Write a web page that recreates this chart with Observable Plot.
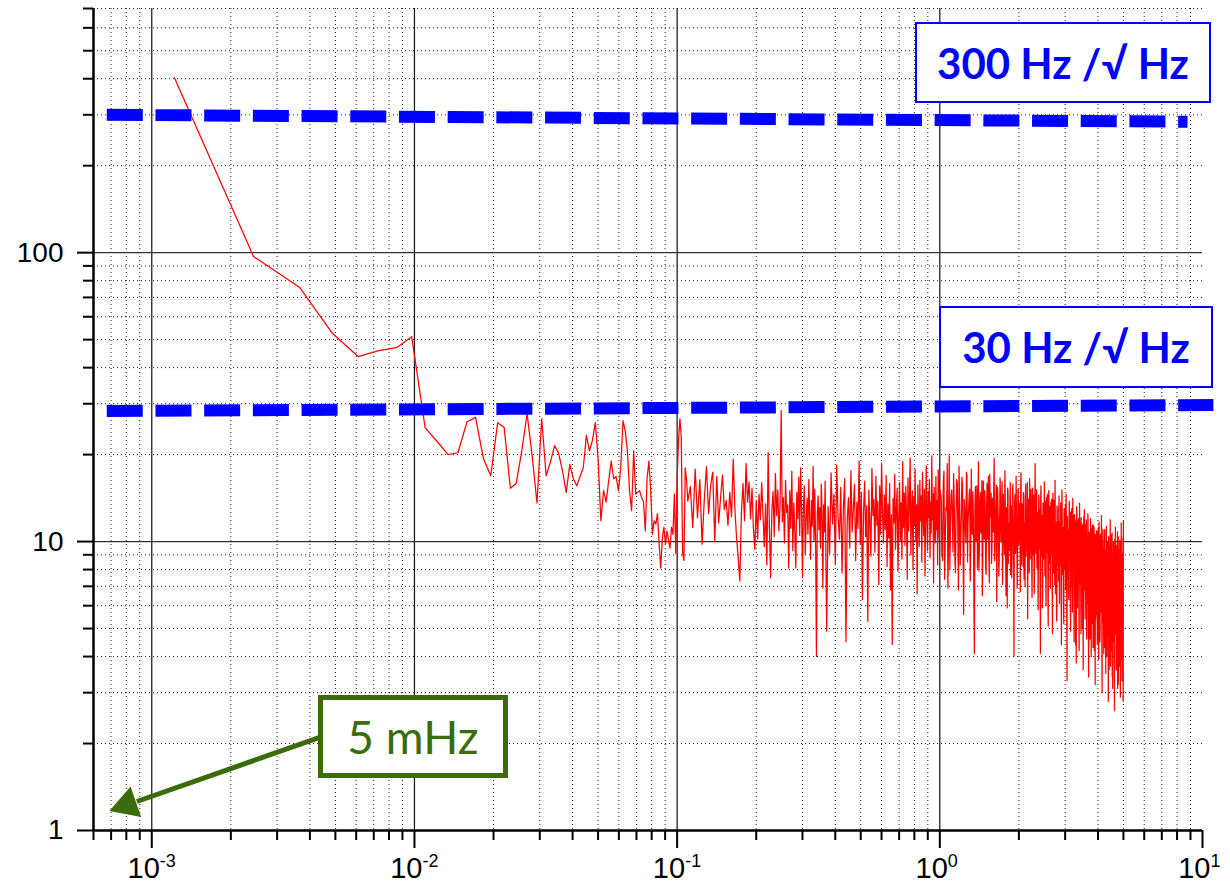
<!DOCTYPE html>
<html><head><meta charset="utf-8">
<script src="https://cdn.jsdelivr.net/npm/d3@7"></script>
<script src="https://cdn.jsdelivr.net/npm/@observablehq/plot@0.6"></script>
<style>
body{margin:0;background:#fff;}
#wrap{position:relative;width:1230px;height:894px;overflow:hidden;}
.box{position:absolute;box-sizing:border-box;background:#fff;display:flex;align-items:center;justify-content:center;white-space:nowrap;}
.blue{border:2.5px solid #0000ff;color:#0000ff;font:700 42px Lato,"Open Sans",sans-serif;}
.green{border:5px solid #3b6b0b;color:#3b6b0b;font:400 46px Lato,"Open Sans",sans-serif;}
</style></head>
<body><div id="wrap"></div>
<script>
// Frequency resolution of the spectrum (Hz per bin)
const df = 0.00122;
// Amplitude spectral density, bins 1..90
const lowAmp = [403,97,75.7,52.5,43.7,45.8,46.9,51.2,24.8,22.2,
20.0,20.3,26.0,26.9,19.4,16.9,25.8,24.8,15.3,15.9,
20.6,27.7,19.8,13.6,26.6,16.9,18.9,21.5,20.2,17.6,
14.8,18.5,16.5,15.6,16.8,18.0,23.3,20.6,22.4,25.8,
19.4,11.8,15.0,13.7,16.3,19.0,16.5,16.8,15.0,18.0,
26.2,24.2,20.6,15.0,12.8,20.6,14.6,14.8,15.0,14.2,
13.8,10.9,16.6,19.0,15.0,10.6,11.8,11.5,12.5,9.8,
8.1,10.3,11.2,9.8,10.9,10.1,9.5,11.2,10.6,14.6,
9.1,16.6,22.4,26.6,22.9,9.1,8.6,18.0,16.3,13.8];
// bins 92..300, every 2nd bin
const midAmp = [15.5,11.2,17.8,12.1,16.4,9.8,14.0,18.2,12.5,15.7,
17.4,10.0,16.8,11.6,14.3,17.0,12.9,13.9,11.4,14.8,
12.2,19.3,13.0,10.3,8.8,7.3,12.6,15.9,11.8,18.6,
13.7,16.1,12.0,15.3,11.0,9.4,13.8,10.2,14.6,11.9,
16.0,12.4,9.6,13.5,8.3,20.3,11.3,7.5,12.8,14.9,
10.4,17.2,12.3,15.1,10.9,13.2,28.4,11.7,14.2,9.9,
16.3,12.6,13.4,8.1,15.0,11.1,17.5,9.3,13.6,10.7,
8.1,14.8,12.0,16.7,10.5,18.0,12.7,7.5,13.3,15.6,
9.0,11.9,14.1,10.6,16.4,12.2,8.7,13.9,11.3,18.2,
10.1,15.2,9.7,4.0,12.4,14.4,11.0,13.1,9.5,15.8,
12.5,6.9,13.4,10.8,16.2];
// bins 304..820, every 4th bin
const hiAmp1 = [4.9,13.2,9.1,17.3,11.5,14.6,8.4,18.4,12.1,10.2,
15.4,7.8,13.0,16.5,4.5,11.9,14.2,9.5,17.6,10.8,
12.9,15.8,8.6,13.7,11.1,19.0,9.8,14.8,6.3,12.6,
16.2,10.4,13.3,5.3,15.1,11.7,8.9,17.9,12.3,14.0,
9.2,16.8,11.4,13.8,7.1,15.6,10.6,18.7,12.8,9.9,
14.5,11.0,16.9,8.2,13.5,10.3,15.9,6.8,12.4,4.4,
14.1,11.6,17.1,9.4,13.1,15.3,7.9,12.0,16.0,10.1,
13.6,8.7,18.9,11.2,14.7,9.7,15.5,12.5,7.4,16.6,
10.9,13.9,19.5,9.0,12.7,15.0,8.0,14.3,11.3,17.8,
10.0,13.4,6.6,15.7,12.2,9.6,16.3,11.8,14.4,8.5,
17.4,12.6,10.5,15.2,7.6,13.2,18.3,11.5,9.3,14.9,
12.1,16.4,8.8,13.7,10.7,19.8,11.9,14.6,7.2,15.4,
12.3,9.9,16.8,11.0,13.9,8.3,17.7,12.8,10.2,15.1];
// bins 830..4100, every 10th bin
const hiAmp2 = [14.2,8.6,17.5,10.3,12.8,6.9,19.8,11.4,15.1,9.2,
13.6,7.8,16.4,10.9,18.2,8.3,12.5,15.7,5.6,13.0,
9.9,16.9,11.7,14.4,7.3,17.8,10.6,12.2,4.1,15.5,
11.1,8.1,18.9,9.7,14.8,12.0,6.5,16.2,10.2,13.3,
7.7,15.9,11.8,9.0,17.1,12.9,8.4,14.1,10.8,19.4,
9.4,13.7,6.2,15.4,11.3,8.8,16.6,10.0,12.6,7.1,
14.6,10.5,17.6,8.5,13.1,5.9,15.0,11.6,9.3,16.0,
12.3,7.5,14.9,10.1,4.0,13.8,9.1,16.8,11.0,8.0,
15.2,10.7,12.7,6.7,17.3,9.6,13.5,8.2,14.3,11.2,
7.0,15.8,10.4,12.1,5.4,14.0,9.8,16.5,8.7,13.2,
10.9,6.4,15.3,9.0,12.4,7.9,18.6,10.3,13.9,8.1,
11.5,5.8,14.5,9.5,12.9,4.1,15.6,8.9,11.9,7.2,
13.4,9.2,16.1,7.6,11.4,6.0,14.2,9.9,12.6,5.1,
15.0,8.4,11.0,6.9,13.7,9.4,10.6,4.8,14.7,7.8,
12.0,8.8,16.3,6.6,10.8,5.5,13.3,9.0,11.7,7.3,
14.4,6.1,10.9,8.3,12.8,4.4,15.1,7.7,10.2,9.1,
5.2,13.0,8.0,11.3,6.8,14.6,9.7,3.3,12.2,7.4,
10.5,6.3,13.8,8.6,11.1,4.9,12.7,7.0,9.8,5.7,
14.1,8.2,10.0,4.5,12.4,6.5,11.6,7.9,3.8,13.2,
9.3,5.9,11.8,7.1,10.3,4.2,13.6,8.0,9.6,6.2,
12.1,7.5,10.7,5.0,11.5,3.6,9.9,6.8,12.9,8.5,
5.4,10.4,7.2,11.9,4.6,9.4,6.1,12.5,8.1,3.4,
10.8,6.4,9.1,5.3,12.0,7.6,4.0,10.1,6.7,11.4,
8.4,4.3,9.7,6.0,11.2,5.1,8.9,3.2,10.5,7.0,
5.6,9.9,7.7,4.4,10.9,6.3,8.3,3.9,11.7,6.9,
9.0,4.8,10.6,7.3,5.7,12.3,6.6,3.0,9.5,5.2,
10.2,7.1,4.1,8.7,6.2,11.0,5.0,9.3,3.5,7.8,
11.3,5.9,8.2,4.7,9.8,6.5,2.8,10.4,7.4,4.9,
8.8,6.0,11.9,3.7,9.2,5.4,7.5,4.2,10.7,6.4,
3.1,8.5,5.8,10.0,4.5,7.9,2.6,9.1,6.1,11.2,
5.0,8.0,3.6,9.6,6.7,4.3,10.8,5.5,7.2,3.2,
9.4,4.6,7.6,3.9,10.1,5.7,2.9,8.6,6.3,11.6,
4.4,8.9,3.3,7.0,5.3,10.3,2.8,11.8];
// bins 835..4095, every 10th bin (interleaved with hiAmp2)
const hiAmp3 = [9.1,16.0,7.4,13.1,18.6,10.4,8.0,14.5,11.8,17.2,
8.9,12.3,15.9,6.8,13.5,10.1,16.7,9.3,14.0,11.1,
17.4,8.5,12.9,15.2,9.6,11.0,14.9,6.3,13.2,10.0,
15.6,12.1,7.9,13.9,10.7,16.3,9.0,12.6,15.0,8.2,
13.0,10.2,16.8,7.2,12.2,14.7,9.5,11.3,15.4,8.6,
12.8,15.7,9.9,13.4,7.6,11.9,14.3,10.0,16.1,8.8,
11.5,9.0,13.8,6.5,12.7,15.3,8.4,10.9,14.1,7.7,
13.3,10.8,15.8,8.1,11.4,14.6,9.4,12.0,6.9,15.0,
9.7,13.6,11.2,15.5,8.3,12.5,10.3,14.8,7.4,11.6,
14.2,8.9,12.1,16.0,9.8,11.0,7.8,13.7,10.6,15.2,
8.0,12.9,10.4,14.5,6.6,11.8,13.5,9.1,15.1,10.2,
12.6,8.5,13.9,10.9,7.0,14.2,9.6,12.3,5.9,13.6,
8.7,12.0,10.1,13.8,7.5,11.3,9.2,14.6,6.2,12.4,
10.6,13.2,7.7,11.9,9.0,14.0,6.8,12.6,8.9,11.1,
13.9,7.1,12.2,9.6,11.6,5.3,13.1,8.3,10.5,12.8,
7.9,11.7,9.4,13.6,6.4,10.8,12.9,8.1,11.2,5.8,
12.5,8.6,10.3,13.4,7.0,11.5,5.1,12.1,9.2,10.9,
6.5,11.8,8.8,12.6,5.6,10.6,9.5,13.0,7.3,11.0,
9.4,12.3,6.1,10.4,8.2,11.9,4.4,10.1,7.6,12.7,
6.9,11.2,8.6,12.0,5.5,9.7,10.9,7.2,11.6,4.8,
9.9,6.3,11.3,8.0,10.5,5.8,12.2,7.5,9.0,10.8,
6.6,11.5,8.4,10.2,4.9,9.6,7.3,12.0,5.6,9.1,
7.8,10.7,4.6,9.3,6.4,11.1,8.2,5.2,10.0,7.0,
9.8,5.9,11.4,7.4,4.2,9.0,6.7,10.6,5.4,8.5,
10.9,6.2,8.8,4.9,9.6,7.5,11.2,5.3,8.0,6.6,
4.5,9.3,7.0,10.3,5.8,8.4,3.8,9.9,6.9,11.0,
7.3,5.1,9.5,6.4,10.6,4.3,8.6,6.0,9.1,5.5,
8.9,4.0,7.7,10.0,5.6,8.1,6.3,9.7,3.6,7.9,
5.2,9.4,6.8,4.1,8.7,10.5,5.9,7.2,3.4,9.0,
6.5,4.7,9.8,5.8,8.3,3.5,7.4,10.2,4.8,8.0,
6.2,9.7,4.0,7.8,5.4,8.9,3.1,7.1,10.4,5.0,
8.2,3.7,6.9,9.3,4.5,7.6,5.6,10.0,3.9,7.0,
5.1,9.1,4.2,8.4,3.4,6.8,9.6];
const segments = [
  {startBin: 1, step: 1, amp: lowAmp},
  {startBin: 92, step: 2, amp: midAmp},
  {startBin: 304, step: 4, amp: hiAmp1},
  {startBin: 830, step: 10, amp: hiAmp2},
  {startBin: 835, step: 10, amp: hiAmp3}
];
// Reference noise levels (dashed)
const upperLevelF = [6.74e-4, 8.77];
const upperLevelV = [300, 284];
const lowerLevelF = [6.74e-4, 11.0];
const lowerLevelV = [28.3, 29.7];
// Annotation arrow (data coordinates)
const arrowFrom = {f: 4.36e-3, v: 2.10};
const arrowTo = {f: 8.77e-4, v: 1.26};
const arrowHead = {f: 8.05e-4, v: 1.227};
// Axis ticks
const xMajor = [1e-3, 1e-2, 1e-1, 1, 10];
const xTickBase = ["10", "10", "10", "10", "10"];
const xTickExp = ["-3", "-2", "-1", "0", "1"];
const yMajor = [1, 10, 100];
const yTickLabels = ["1", "10", "100"];
const multipliers = [2, 3, 4, 5, 6, 7, 8, 9];
const xDecades = [1e-4, 1e-3, 1e-2, 1e-1, 1];
const yDecades = [1, 10, 100];

const xMinor = xDecades.flatMap(d => multipliers.map(m => +(m * d).toPrecision(3))).filter(v => v >= 6e-4 && v <= 10);
const yMinor = yDecades.flatMap(d => multipliers.map(m => m * d)).filter(v => v <= 700);

const spectrum = segments
  .flatMap(s => s.amp.map((v, i) => ({bin: s.startBin + i * s.step, v})))
  .sort((a, b) => a.bin - b.bin)
  .map(d => ({f: d.bin * df, v: d.v}));
const upper = upperLevelF.map((f, i) => ({f, v: upperLevelV[i]}));
const lower = lowerLevelF.map((f, i) => ({f, v: lowerLevelV[i]}));
const green = "#3b6b0b";

const chart = Plot.plot({
  width: 1230, height: 894,
  marginLeft: 93, marginRight: 28, marginTop: 8, marginBottom: 64,
  x: {type: "log", domain: [6e-4, 10], axis: null, label: null},
  y: {type: "log", domain: [1, 700], axis: null, label: null},
  style: {background: "transparent", fontFamily: "'Liberation Sans', Arial, sans-serif", color: "#000"},
  marks: [
    Plot.ruleX(xMinor, {stroke: "#000", strokeOpacity: 0.9, strokeDasharray: "1,3"}),
    Plot.ruleY(yMinor, {stroke: "#000", strokeOpacity: 0.9, strokeDasharray: "1,3"}),
    Plot.ruleX(xMajor.filter(d => d < 10), {stroke: "#111", strokeWidth: 1.2}),
    Plot.ruleY(yMajor.filter(d => d > 1), {stroke: "#333", strokeWidth: 1.2}),
    Plot.line(spectrum, {x: "f", y: "v", stroke: "#ff0000", strokeWidth: 1.25}),
    Plot.line(upper, {x: "f", y: "v", stroke: "#0000ff", strokeWidth: 12, strokeDasharray: "36,12.7", strokeLinecap: "butt"}),
    Plot.line(lower, {x: "f", y: "v", stroke: "#0000ff", strokeWidth: 12, strokeDasharray: "36,12.7", strokeLinecap: "butt"}),
    Plot.link([arrowFrom], {x1: "f", y1: "v", x2: () => arrowTo.f, y2: () => arrowTo.v, stroke: green, strokeWidth: 5}),
    Plot.dot([arrowHead], {x: "f", y: "v", symbol: "triangle", r: 12, fill: green, stroke: "none", rotate: 251}),
    Plot.ruleX([6e-4], {stroke: "#000", strokeWidth: 2.5}),
    Plot.ruleY([1], {stroke: "#000", strokeWidth: 2.5}),
    Plot.axisY({ticks: yMinor, anchor: "left", tickSize: 10, strokeWidth: 2, tickFormat: () => "", label: null}),
    Plot.axisY({ticks: yMajor, anchor: "left", tickSize: 16, tickPadding: 14, strokeWidth: 2, fontSize: 28, tickFormat: (d) => yTickLabels[yMajor.indexOf(d)], label: null}),
    Plot.axisX({ticks: xMinor, anchor: "bottom", tickSize: 10, strokeWidth: 2, tickFormat: () => "", label: null}),
    Plot.axisX({ticks: xMajor, anchor: "bottom", tickSize: 18, strokeWidth: 2, tickFormat: () => "", label: null}),
    Plot.text(xMajor, {x: d => d, frameAnchor: "bottom", text: (d, i) => xTickBase[i], textAnchor: "end", dx: 8, dy: 47, fontSize: 29, fill: "#000"}),
    Plot.text(xMajor, {x: d => d, frameAnchor: "bottom", text: (d, i) => xTickExp[i], textAnchor: "start", dx: 8, dy: 36, fontSize: 18, fill: "#000"})
  ]
});
const wrap = document.getElementById("wrap");
wrap.appendChild(chart);

function addBox(cls, text, left, top, w, h) {
  const d = document.createElement("div");
  d.className = "box " + cls;
  d.textContent = text;
  Object.assign(d.style, {left: left + "px", top: top + "px", width: w + "px", height: h + "px"});
  wrap.appendChild(d);
}
addBox("blue", "300 Hz /\u221A Hz", 915, 22, 296, 81);
addBox("blue", "30 Hz /\u221A Hz", 939, 306, 274, 82);
addBox("green", "5 mHz", 318, 695, 190, 83);
</script>
</body></html>
